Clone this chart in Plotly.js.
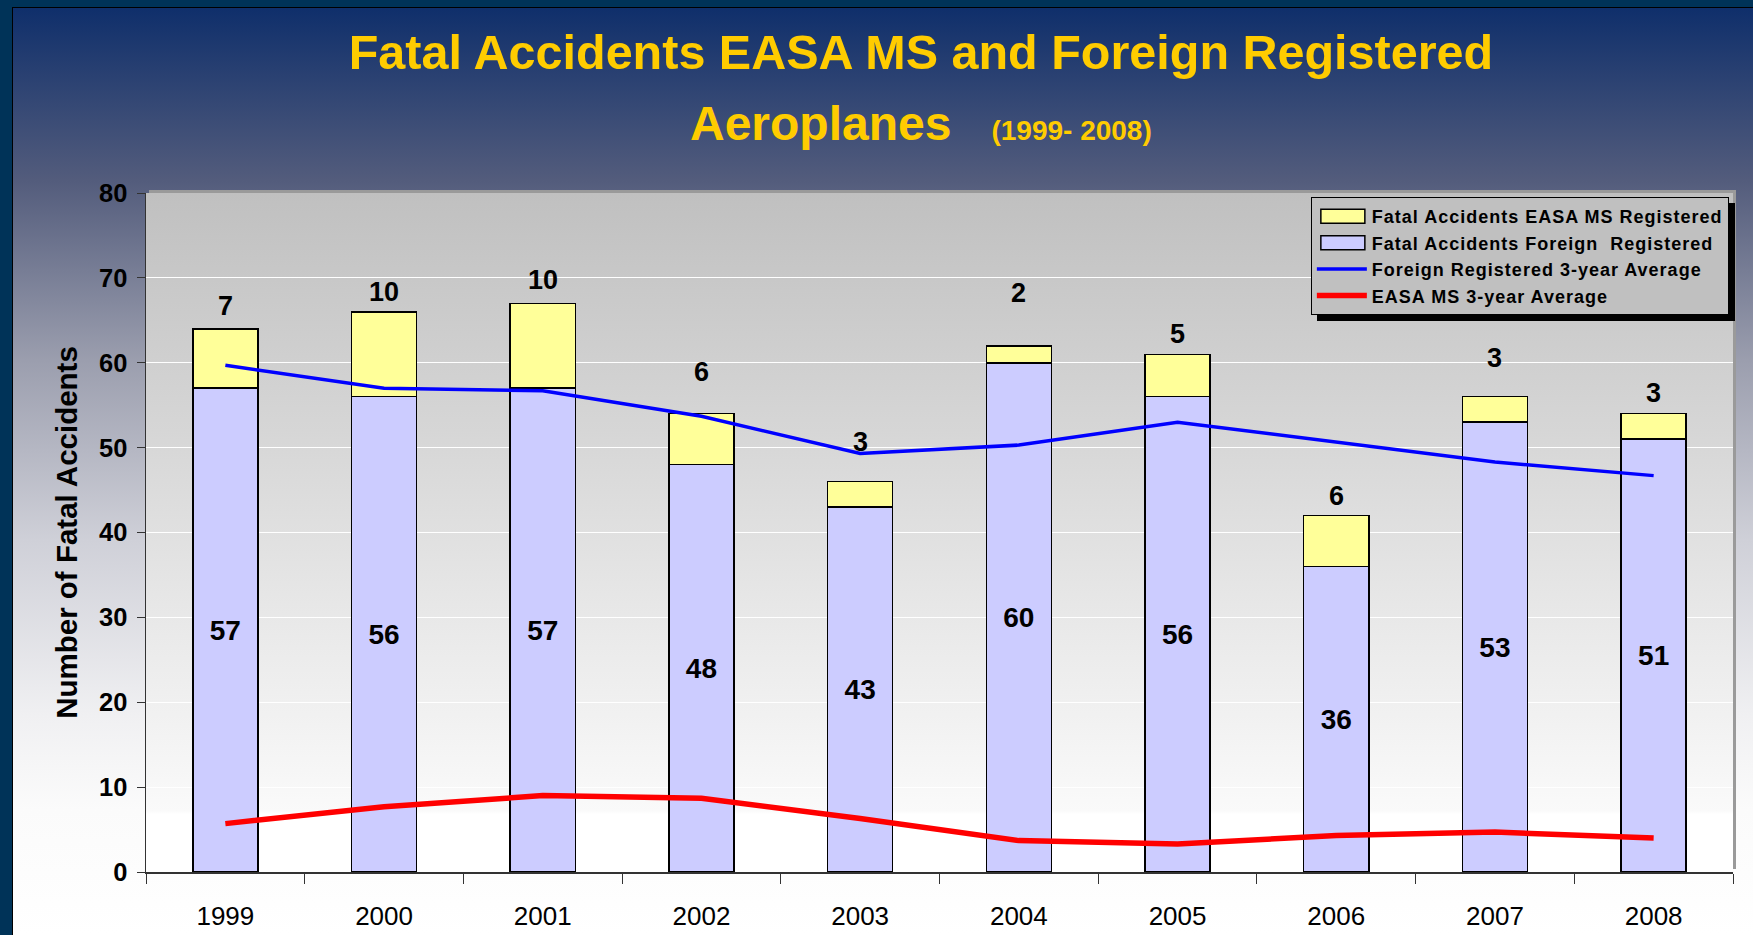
<!DOCTYPE html>
<html>
<head>
<meta charset="utf-8">
<script src="https://cdn.plot.ly/plotly-3.0.1.min.js"></script>
<style>
    body { margin: 0; }
    #frame { position: relative; width: 1753px; height: 935px; background: #003358; overflow: hidden; }
    #pagebg {
        position: absolute; left: 12px; top: 7px; right: 0; bottom: 0;
        border-left: 1px solid #000; border-top: 1px solid #000;
        background: linear-gradient(to bottom, #0f2f6b 0%, #535c7c 18.6%, #9b9eae 38%, #cfd0d8 57.4%, #f0f0f2 76.3%, #fbfbfb 86.5%, #ffffff 100%);
    }
    #plotbg {
        position: absolute; left: 146px; top: 193px; width: 1587px; height: 679px;
        background: linear-gradient(to bottom, #c0c0c0 0%, #d6d6d6 35%, #e8e8e8 62%, #f6f6f6 85%, #fafafa 91%, #ffffff 91.5%, #ffffff 100%);
        box-shadow: 3px -3px 0 #9a9a9a;
    }
    #chart { position: absolute; left: 0; top: 0; width: 1753px; height: 935px; }
    .legend .bg { filter: drop-shadow(6px 6px 0 #000); }
    /* no ancestor in the selector, so Plotly's text measuring copy gets it too */
    text.legendtext { letter-spacing: 1px; }
</style>
</head>
<body>
<div id="frame">
    <div id="pagebg"></div>
    <div id="plotbg"></div>
    <div id="chart"></div>
</div>
<script>
const years = ['1999', '2000', '2001', '2002', '2003', '2004', '2005', '2006', '2007', '2008'];
const foreignRegistered = [57, 56, 57, 48, 43, 60, 56, 36, 53, 51];
const easaRegistered = [7, 10, 10, 6, 3, 2, 5, 6, 3, 3];
const foreignAvg3 = [59.7, 57.0, 56.7, 53.7, 49.3, 50.3, 53.0, 50.7, 48.3, 46.7];
const easaAvg3 = [5.7, 7.7, 9.0, 8.7, 6.3, 3.7, 3.3, 4.3, 4.7, 4.0];
const yTicks = [0, 10, 20, 30, 40, 50, 60, 70, 80];

// how far (px) each EASA label sits above its bar top, as placed in the original
const labelLift = [23, 20, 23, 42, 40, 53, 20, 20, 39, 21];

const FONT = 'Liberation Sans, Arial, sans-serif';

let foreignTrace = {
    type: 'bar',
    x: years,
    y: foreignRegistered,
    name: '<b>Fatal Accidents Foreign&nbsp; Registered</b>',
    legendrank: 2,
    width: 0.41,
    marker: { color: '#ccccff', line: { color: '#000000', width: 1.5 } },
    text: foreignRegistered.map(v => '<b>' + v + '</b>'),
    textposition: 'inside',
    insidetextanchor: 'middle',
    textangle: 0,
    textfont: { family: FONT, size: 28, color: '#000000' }
};

let easaTrace = {
    type: 'bar',
    x: years,
    y: easaRegistered,
    name: '<b>Fatal Accidents EASA MS Registered</b>',
    legendrank: 1,
    width: 0.41,
    marker: { color: '#ffff99', line: { color: '#000000', width: 1.5 } }
};

let foreignAvgTrace = {
    type: 'scatter',
    mode: 'lines',
    x: years,
    y: foreignAvg3,
    name: '<b>Foreign Registered 3-year Average</b>',
    legendrank: 3,
    line: { color: '#0000ff', width: 3.5 }
};

let easaAvgTrace = {
    type: 'scatter',
    mode: 'lines',
    x: years,
    y: easaAvg3,
    name: '<b>EASA MS 3-year Average</b>',
    legendrank: 4,
    line: { color: '#ff0000', width: 5.5 }
};

// category axis: annotations are placed by category index
let easaLabels = years.map((yr, i) => ({
    x: i,
    y: foreignRegistered[i] + easaRegistered[i],
    yshift: labelLift[i],
    yanchor: 'middle',
    text: '<b>' + easaRegistered[i] + '</b>',
    showarrow: false,
    font: { family: FONT, size: 27, color: '#000000' }
}));

let subTitle = {
    xref: 'paper', yref: 'paper',
    x: 0.4883, y: 1.103,
    xanchor: 'center', yanchor: 'middle',
    text: '<b>Aeroplanes&nbsp;&nbsp; <span style="font-size:28px">(1999- 2008)</span></b>',
    showarrow: false,
    font: { family: FONT, size: 48, color: '#ffcc00' }
};

let layout = {
    width: 1753,
    height: 935,
    margin: { l: 146, r: 20, t: 193, b: 63 },
    paper_bgcolor: 'rgba(0,0,0,0)',
    plot_bgcolor: 'rgba(0,0,0,0)',
    barmode: 'stack',
    hovermode: false,
    font: { family: FONT, color: '#000000' },
    title: {
        text: '<b>Fatal Accidents EASA MS and Foreign Registered</b>',
        font: { family: FONT, size: 48.5, color: '#ffcc00' },
        xref: 'paper', x: 0.4883, xanchor: 'center',
        yref: 'container', y: 0.944, yanchor: 'middle'
    },
    xaxis: {
        type: 'category',
        range: [-0.5, 9.5],
        tickson: 'boundaries',
        ticks: 'outside',
        ticklen: 10,
        tickwidth: 1,
        tickcolor: '#333333',
        showline: true,
        linecolor: '#333333',
        linewidth: 1.5,
        showgrid: false,
        ticklabelstandoff: 20,
        tickfont: { family: FONT, size: 26, color: '#000000' }
    },
    yaxis: {
        range: [0, 80],
        tickvals: yTicks,
        ticks: 'outside',
        ticklen: 8,
        tickwidth: 1,
        tickcolor: '#333333',
        showline: true,
        linecolor: '#333333',
        linewidth: 1.5,
        showgrid: true,
        gridcolor: '#ffffff',
        gridwidth: 1,
        zeroline: false,
        ticklabelstandoff: 4,
        tickfont: { family: FONT, size: 25.5, weight: 'bold', color: '#000000' },
        title: {
            text: '<b>Number of Fatal Accidents</b>',
            font: { family: FONT, size: 29.5, color: '#000000' },
            standoff: 12
        }
    },
    legend: {
        x: 0.734, y: 0.994,
        xanchor: 'left', yanchor: 'top',
        traceorder: 'normal',
        bgcolor: '#c0c0c0',
        bordercolor: '#000000',
        borderwidth: 1,
        itemwidth: 50,
        font: { family: FONT, size: 18, color: '#000000' }
    },
    annotations: [subTitle].concat(easaLabels)
};

// the original legend uses wide rectangles for the bar entries
function widenBarKeys() {
    document.querySelectorAll('.legend .legendpoints path').forEach(function (p) {
        let d = p.getAttribute('d') || '';
        if (d.indexOf('M6,6H-6V-6H6Z') === 0) {
            p.setAttribute('d', 'M23,7H-21V-7H23Z');
        }
    });
}

Plotly.newPlot('chart', [foreignTrace, easaTrace, foreignAvgTrace, easaAvgTrace], layout, { displayModeBar: false, staticPlot: true })
    .then(function () {
        widenBarKeys();
        setTimeout(widenBarKeys, 50);
        setTimeout(widenBarKeys, 300);
    });
</script>
</body>
</html>
